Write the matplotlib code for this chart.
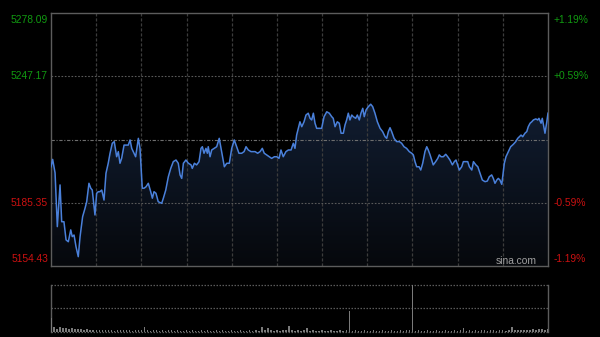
import numpy as np
import matplotlib
matplotlib.use("Agg")
import matplotlib.pyplot as plt
from matplotlib.colors import LinearSegmentedColormap
from matplotlib.patches import Polygon

# ---------------- data ----------------
minutes = [0, 1.1, 2.7, 4.2, 6.0, 7.1, 8.6, 10.0, 11.5, 13.1, 14.1, 15.3, 16.6, 18.1, 19.3,
           21.0, 22.6, 23.7, 25.2, 26.4, 27.4, 29.2, 30.3, 31.4, 32.5, 33.7, 35.2, 36.5, 38.0,
           39.2, 40.7, 42.0, 43.6, 44.7, 45.8, 46.9, 48.5, 50.3, 51.3, 52.5, 53.6, 54.6, 56.2,
           58.0, 59.1, 60.6, 61.8, 63.1, 64.6, 66.2, 67.3, 68.4, 69.7, 71.2, 73.5, 74.6, 76.2,
           77.9, 79.5, 81.2, 83.0, 84.5, 85.7, 86.8, 87.9, 89.6, 91.2, 93.0, 93.8, 95.2, 96.7,
           98.3, 99.6, 100.5, 101.6, 102.9, 103.8, 104.4, 105.6, 106.7, 108.4, 110.0, 111.7,
           113.3, 115.1, 116.7, 118.4, 120.0, 121.7, 123.3, 124.8, 126.6, 128.2, 129.5, 131.0,
           132.8, 135.5, 137.2, 138.8, 140.3, 141.6, 143.2, 145.0, 146.5, 148.3, 149.9, 151.4,
           152.7, 154.2, 156.0, 157.6, 159.4, 160.9, 162.0, 163.1, 164.2, 165.3, 166.5, 168.0,
           169.3, 170.8, 172.0, 173.1, 174.2, 175.3, 176.4, 178.2, 179.7, 181.3, 183.1, 184.8,
           186.4, 187.4, 188.6, 190.1, 191.4, 192.6, 194.1, 195.2, 196.3, 197.4, 198.5, 199.7,
           200.7, 202.3, 203.4, 204.7, 205.8, 207.0, 208.0, 209.2, 210.7, 212.3, 213.6, 215.1,
           216.7, 218.5, 220.2, 221.8, 222.9, 224.0, 225.1, 226.2, 227.8, 229.5, 231.3, 232.8,
           234.4, 236.1, 237.9, 239.5, 240.6, 241.7, 242.8, 244.4, 245.5, 246.8, 248.3, 249.5,
           250.5, 251.7, 252.8, 253.8, 255.4, 256.8, 257.8, 259.0, 260.5, 262.1, 263.4, 264.9,
           266.5, 267.8, 268.9, 270.0, 271.1, 272.7, 273.8, 275.6, 276.7, 277.8, 279.4, 280.5,
           282.1, 283.4, 284.9, 286.4, 288.2, 289.7, 291.0, 292.6, 293.7, 294.8, 296.0, 297.0,
           298.1, 299.3, 299.9, 301.0, 302.1, 303.7, 305.2, 307.0, 308.6, 309.9, 311.0, 312.1,
           313.2, 314.7, 315.9, 316.9, 318.1, 319.2, 320.3, 321.9, 323.2, 324.0, 325.4, 326.2,
           327.4, 328.0, 329.2, 330.0]

prices = [5203.0, 5206.6, 5200.0, 5173.7, 5194.1, 5176.1, 5176.1, 5167.2, 5166.3, 5172.1,
          5168.8, 5169.6, 5163.9, 5159.0, 5168.8, 5178.6, 5182.7, 5185.9, 5194.9, 5192.5,
          5191.6, 5179.4, 5190.0, 5190.8, 5190.8, 5191.6, 5186.7, 5199.8, 5204.7, 5209.6,
          5214.5, 5215.3, 5207.9, 5210.4, 5204.7, 5207.1, 5213.6, 5213.6, 5213.6, 5216.1,
          5212.0, 5210.4, 5207.9, 5216.9, 5212.0, 5192.5, 5192.5, 5193.2, 5194.9, 5190.8,
          5187.6, 5190.8, 5190.0, 5185.9, 5185.1, 5187.6, 5191.6, 5198.1, 5202.2, 5205.5,
          5206.3, 5204.7, 5199.0, 5197.3, 5204.7, 5206.3, 5204.7, 5203.9, 5202.2, 5204.7,
          5203.9, 5205.5, 5212.0, 5212.8, 5209.6, 5212.0, 5209.6, 5212.8, 5207.9, 5211.2,
          5212.0, 5212.8, 5216.9, 5210.4, 5203.0, 5204.7, 5204.7, 5212.0, 5216.1, 5212.8,
          5209.6, 5209.6, 5210.4, 5212.8, 5211.2, 5210.4, 5210.4, 5209.6, 5210.4, 5212.0,
          5209.6, 5208.8, 5207.9, 5207.1, 5207.9, 5207.9, 5207.1, 5211.2, 5207.9, 5210.4,
          5211.2, 5211.2, 5214.5, 5212.0, 5218.5, 5221.8, 5225.0, 5222.6, 5225.0, 5228.3,
          5229.2, 5226.7, 5225.9, 5229.2, 5224.3, 5221.8, 5221.8, 5221.8, 5227.5, 5229.9,
          5229.2, 5227.5, 5226.7, 5222.6, 5225.0, 5224.3, 5219.4, 5219.4, 5223.4, 5225.9,
          5229.2, 5225.9, 5228.3, 5227.5, 5226.7, 5228.3, 5225.9, 5229.2, 5231.6, 5227.5,
          5230.8, 5232.4, 5233.6, 5232.4, 5229.2, 5225.0, 5221.8, 5220.2, 5217.7, 5216.9,
          5220.2, 5222.1, 5220.2, 5216.9, 5215.3, 5215.3, 5214.5, 5212.8, 5212.0, 5210.4,
          5209.6, 5208.8, 5205.5, 5203.0, 5203.0, 5201.4, 5204.7, 5210.4, 5212.8, 5211.2,
          5208.8, 5206.3, 5203.9, 5205.5, 5207.1, 5208.8, 5207.9, 5207.9, 5209.1, 5207.9,
          5206.3, 5203.9, 5205.5, 5206.3, 5203.9, 5201.4, 5203.0, 5205.5, 5205.5, 5205.5,
          5203.0, 5201.4, 5205.5, 5203.9, 5203.0, 5199.8, 5196.5, 5195.7, 5196.0, 5198.1,
          5199.0, 5197.3, 5194.9, 5196.5, 5197.3, 5196.5, 5194.4, 5198.1, 5204.7, 5207.9,
          5210.4, 5212.8, 5214.0, 5215.3, 5216.9, 5217.7, 5218.5, 5217.7, 5219.4, 5220.2,
          5222.6, 5224.3, 5225.0, 5225.9, 5226.4, 5225.9, 5226.7, 5224.3, 5226.7, 5221.8,
          5219.4, 5225.0, 5229.2]

volume = [30, 9, 6, 10, 7, 8, 6, 7, 5, 6, 5, 4, 5, 4, 3, 4,
          3, 3, 4, 3, 3, 2, 3, 3, 4, 3, 3, 2, 3, 3, 3,
          11,
          3, 2, 3, 3, 2, 3, 2, 3, 3, 2, 3, 2, 2, 3, 2, 3, 2, 2, 3, 2,
          3, 2, 2, 3, 2, 3, 2, 2, 3, 2, 2, 3, 2, 2, 3, 2, 3, 2,
          11, 3, 8,
          3, 2, 3, 2, 3, 3,
          12,
          3, 2, 3, 2, 3,
          7,
          2, 3, 2, 2, 3, 2, 2, 3, 2, 2, 3, 2, 3,
          45,
          2, 3, 2, 2, 3, 2, 2, 3, 2, 2, 3, 2, 2, 3, 2, 2, 3, 2, 3, 4,
          100,
          2, 3, 2, 2, 3, 2, 2, 3, 2, 2, 3, 2, 2, 3, 2, 3,
          7,
          2, 3, 2, 3, 2, 3, 3, 2, 3, 3, 2, 3, 3, 2, 3,
          11,
          3, 3, 4, 3, 3,
          4, 5, 4, 6, 5, 4, 5]
vol_minutes = np.arange(0, 331, 2)

prev_close = 5216.26
left_ticks = [5278.09, 5247.17, 5185.35, 5154.43]
left_labels = ["5278.09", "5247.17", "5185.35", "5154.43"]
right_labels = ["+1.19%", "+0.59%", "-0.59%", "-1.19%"]
grid_minutes = [30, 60, 90, 120, 150, 180, 210, 240, 270, 300]

# ---------------- style ----------------
BG = "#000000"
GREEN = "#119a11"
RED = "#cc1111"
LINE = "#4a80da"
FONT = "Liberation Sans"

fig = plt.figure(figsize=(6.0, 3.37), dpi=100, facecolor=BG)
ax = fig.add_axes([51/600, 1-266/337, 497/600, 252.7/337])
ax.set_facecolor(BG)
ymin, ymax = 5154.43, 5278.09
ax.set_xlim(0, 330)
ax.set_ylim(ymin, ymax)

# gradient fill under line
cmap = LinearSegmentedColormap.from_list("g", ["#06080c", "#111d31"])
grad = np.linspace(0, 1, 256).reshape(-1, 1)
top_val = max(prices)
im = ax.imshow(grad, extent=[0, 330, ymin, top_val], origin="lower", aspect="auto",
               cmap=cmap, zorder=1)
verts = list(zip(minutes, prices)) + [(minutes[-1], ymin), (minutes[0], ymin)]
poly = Polygon(verts, closed=True, facecolor="none", edgecolor="none")
ax.add_patch(poly)
im.set_clip_path(poly)
ax.set_xlim(0, 330)
ax.set_ylim(ymin, ymax)

# grid
for gm in grid_minutes:
    ax.axvline(gm, color="#3c3c3c", lw=0.9, ls=(0, (2.5, 1.5)), zorder=2)
for v in [left_ticks[1], left_ticks[2]]:
    ax.axhline(v, color="#5a5a5a", lw=0.8, ls=(0, (1.5, 1.5)), zorder=2)
ax.axhline(prev_close, color="#6e6e6e", lw=0.8, ls=(0, (3, 1.5, 1, 1.5)), zorder=2)

ax.plot(minutes, prices, color=LINE, lw=1.1, zorder=3)

for s in ax.spines.values():
    s.set_color("#5c5c5c")
    s.set_linewidth(1.0)
ax.set_xticks([])
ax.set_yticks([])

# labels
colors = [GREEN, GREEN, RED, RED]
vas = ["top", "center", "center", "bottom"]
for val, lab, rlab, c, va in zip(left_ticks, left_labels, right_labels, colors, vas):
    yy = (val - ymin) / (ymax - ymin)
    off = -0.008 if va == "top" else (0.008 if va == "bottom" else 0)
    ax.text(-0.006, yy + off, lab, transform=ax.transAxes, ha="right", va=va,
            color=c, fontsize=7.4, family=FONT)
    ax.text(1.011, yy + off, rlab, transform=ax.transAxes, ha="left", va=va,
            color=c, fontsize=7.4, family=FONT)

ax.text(0.977, 0.02, "sina.com", transform=ax.transAxes, ha="right", va="center",
        color="#a0a0a0", fontsize=7.4, family=FONT, zorder=4)

# ---------------- volume panel ----------------
ax2 = fig.add_axes([51/600, 1-331.7/337, 497/600, 47/337])
ax2.set_facecolor(BG)
ax2.set_xlim(0, 330)
ax2.set_ylim(0, 100)
ax2.bar(vol_minutes, volume, width=0.9, color="#7a7a7a", align="center", zorder=3)
for v in [0, 50, 100]:
    ax2.axhline(v, color="#5a5a5a", lw=0.9, ls=(0, (1.2, 1.2)), zorder=2, clip_on=False)
for side in ["top", "bottom"]:
    ax2.spines[side].set_visible(False)
for side in ["left", "right"]:
    ax2.spines[side].set_color("#5c5c5c")
    ax2.spines[side].set_linewidth(1.0)
ax2.set_xticks([])
ax2.set_yticks([])

fig.savefig("out.png", dpi=100, facecolor=BG)
